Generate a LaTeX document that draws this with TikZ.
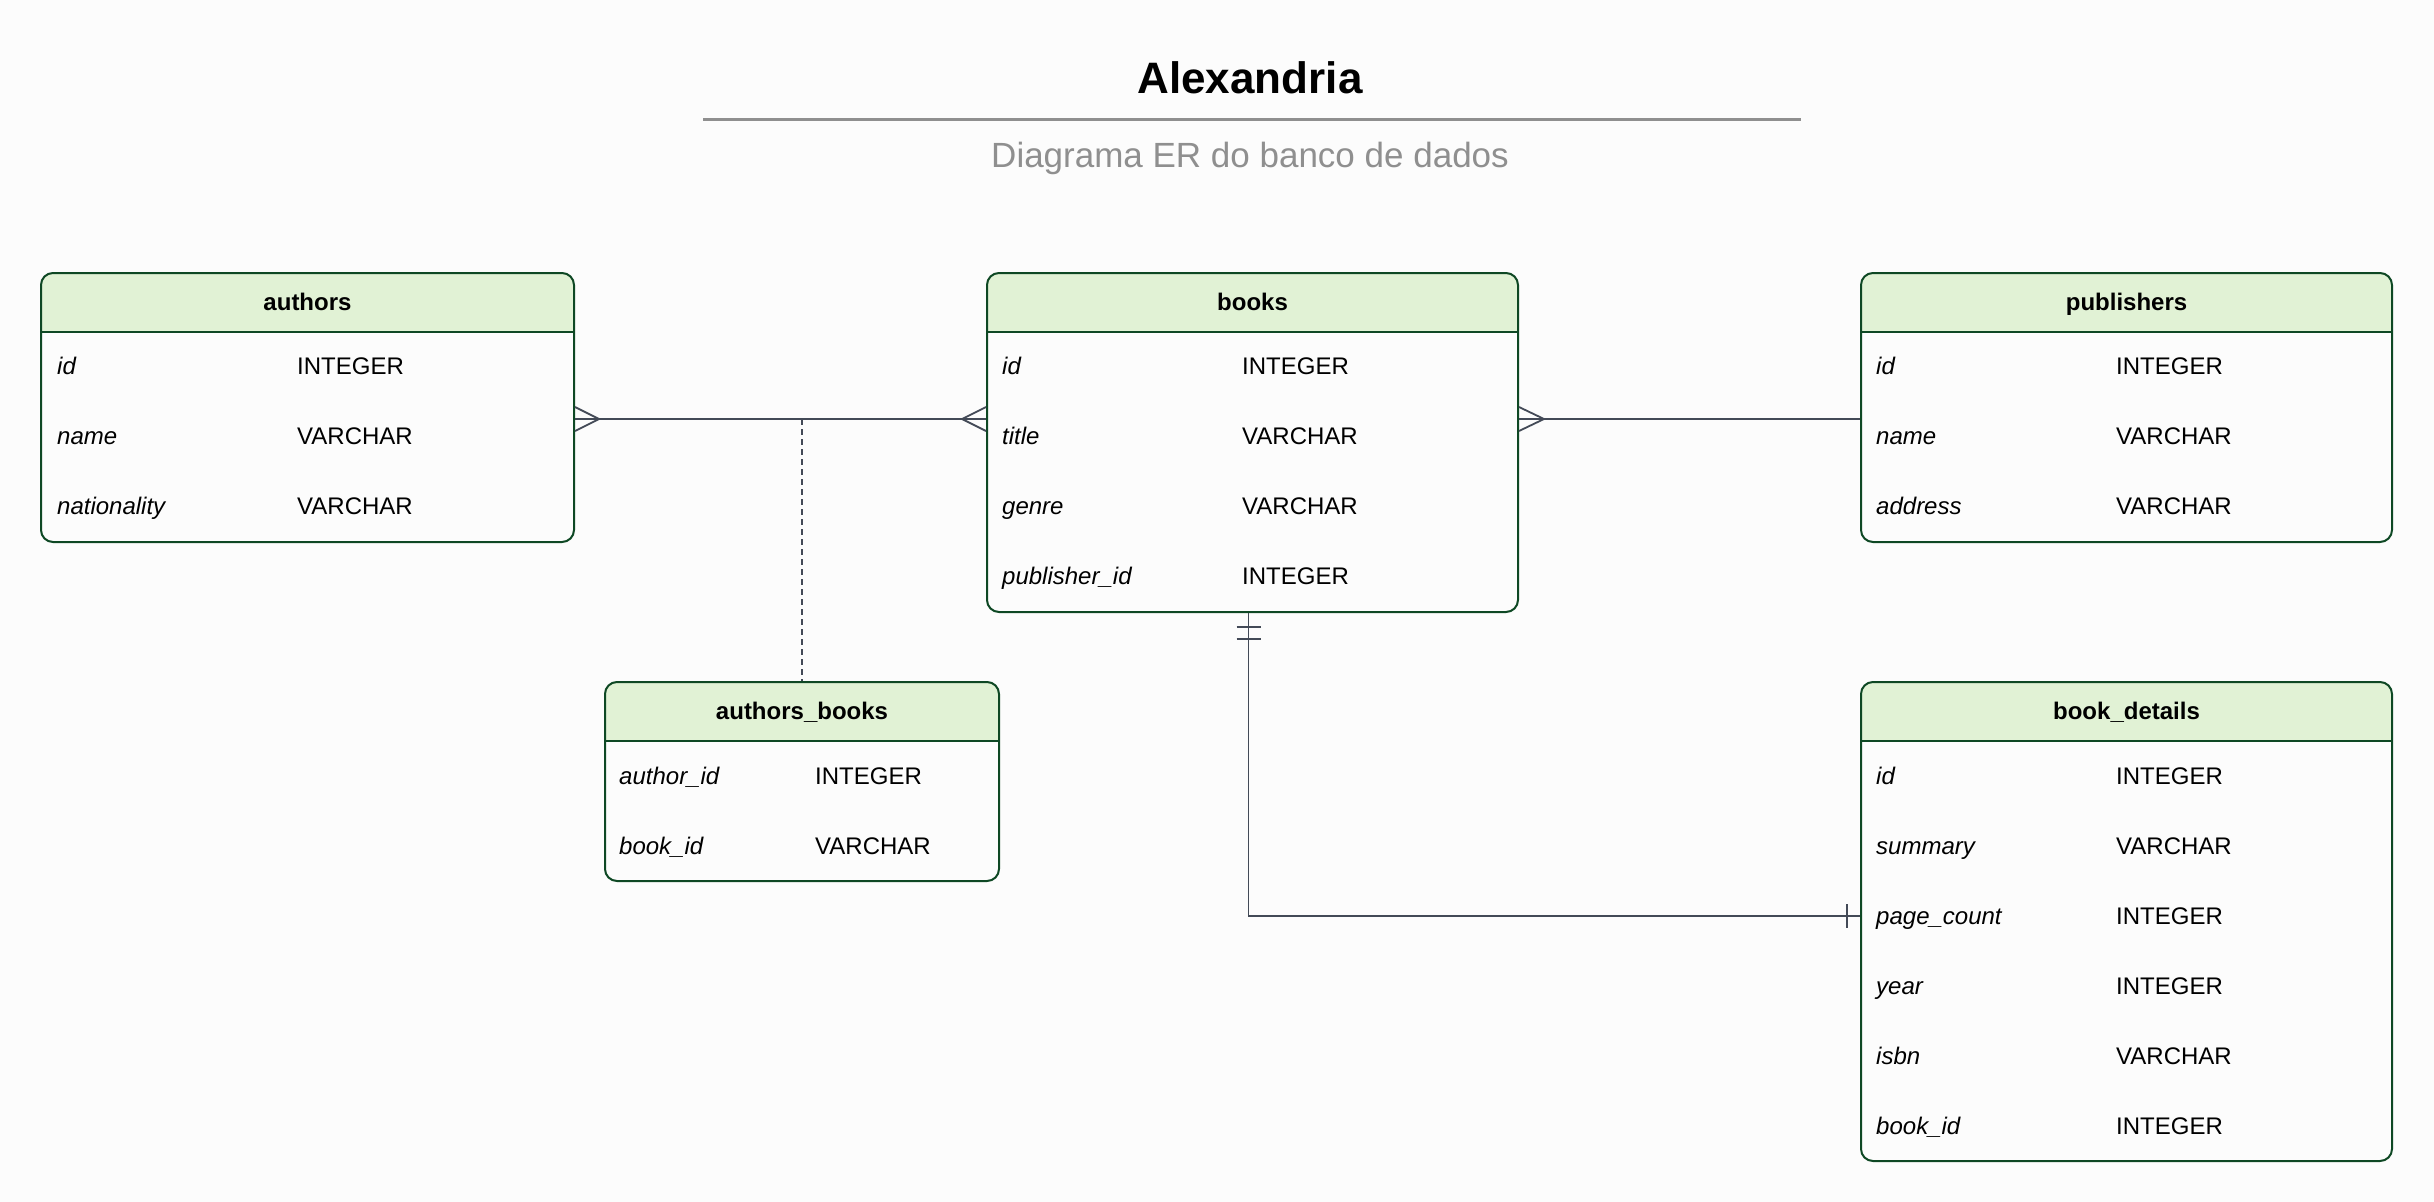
\documentclass[tikz,border=0pt]{standalone}
\usepackage{fontspec}
\setmainfont{Liberation Sans}
\definecolor{bg}{RGB}{252,252,252}
\definecolor{tblline}{RGB}{14,72,36}
\definecolor{tblhead}{RGB}{225,242,213}
\definecolor{relline}{RGB}{67,74,87}
\definecolor{subgray}{RGB}{143,143,143}
\tikzset{
  tbl/.style={draw=tblline, line width=2pt, rounded corners=12pt, fill=bg,
    anchor=north west, inner sep=0pt,
    path picture={
      \fill[tblhead, sharp corners] (path picture bounding box.north west)
        rectangle ([yshift=-59pt]path picture bounding box.north east);
      \draw[tblline, line width=2pt, sharp corners]
        ([yshift=-59pt]path picture bounding box.north west)
        -- ([yshift=-59pt]path picture bounding box.north east);}},
  hd/.style={inner sep=0pt, text height=17pt, text depth=0pt,
    font=\fontsize{24}{28}\selectfont\bfseries},
  fld/.style={anchor=west, inner sep=0pt, text height=17pt, text depth=0pt,
    font=\fontsize{24}{28}\selectfont\itshape},
  typ/.style={anchor=west, inner sep=0pt, text height=17pt, text depth=0pt,
    font=\fontsize{24}{28}\selectfont},
  rel/.style={draw=relline, line width=1.8pt}
}
\begin{document}
\begin{tikzpicture}
	\fill[bg] (0pt,0pt) rectangle (2434pt,-1202pt);
	\useasboundingbox (0pt,0pt) rectangle (2434pt,-1202pt);
	%title
	\node[anchor=base, font=\fontsize{44}{52}\selectfont\bfseries] (title) at (1250pt,-93pt) {Alexandria};
	\draw[subgray, line width=3pt] (703pt,-119pt) -- (1801pt,-119pt);
	\node[anchor=base, text=subgray, font=\fontsize{35}{42}\selectfont] (subtitle) at (1250pt,-167pt) {Diagrama ER do banco de dados};
	%authors
	\node[tbl, minimum width=533pt, minimum height=269pt] (authors) at (40pt,-272pt) {};
	\node[hd] (authors-h) at ([yshift=-29.5pt]authors.north) {authors};
	\node[fld] (au-id) at (57pt,-366pt) {id};
	\node[typ] (au-id-t) at (297pt,-366pt) {INTEGER};
	\node[fld] (au-name) at (57pt,-436pt) {name};
	\node[typ] (au-name-t) at (297pt,-436pt) {VARCHAR};
	\node[fld] (au-nat) at (57pt,-506pt) {nationality};
	\node[typ] (au-nat-t) at (297pt,-506pt) {VARCHAR};
	%books
	\node[tbl, minimum width=531pt, minimum height=339pt] (books) at (986pt,-272pt) {};
	\node[hd] (books-h) at ([yshift=-29.5pt]books.north) {books};
	\node[fld] (bk-id) at (1002pt,-366pt) {id};
	\node[typ] (bk-id-t) at (1242pt,-366pt) {INTEGER};
	\node[fld] (bk-title) at (1002pt,-436pt) {title};
	\node[typ] (bk-title-t) at (1242pt,-436pt) {VARCHAR};
	\node[fld] (bk-genre) at (1002pt,-506pt) {genre};
	\node[typ] (bk-genre-t) at (1242pt,-506pt) {VARCHAR};
	\node[fld] (bk-pub) at (1002pt,-576pt) {publisher\_id};
	\node[typ] (bk-pub-t) at (1242pt,-576pt) {INTEGER};
	%publishers
	\node[tbl, minimum width=531pt, minimum height=269pt] (publishers) at (1860pt,-272pt) {};
	\node[hd] (publishers-h) at ([yshift=-29.5pt]publishers.north) {publishers};
	\node[fld] (pb-id) at (1876pt,-366pt) {id};
	\node[typ] (pb-id-t) at (2116pt,-366pt) {INTEGER};
	\node[fld] (pb-name) at (1876pt,-436pt) {name};
	\node[typ] (pb-name-t) at (2116pt,-436pt) {VARCHAR};
	\node[fld] (pb-addr) at (1876pt,-506pt) {address};
	\node[typ] (pb-addr-t) at (2116pt,-506pt) {VARCHAR};
	%authors_books
	\node[tbl, minimum width=394pt, minimum height=199pt] (authors-books) at (604pt,-681pt) {};
	\node[hd] (authors-books-h) at ([yshift=-29.5pt]authors-books.north) {authors\_books};
	\node[fld] (ab-author) at (619pt,-776pt) {author\_id};
	\node[typ] (ab-author-t) at (815pt,-776pt) {INTEGER};
	\node[fld] (ab-book) at (619pt,-846pt) {book\_id};
	\node[typ] (ab-book-t) at (815pt,-846pt) {VARCHAR};
	%book_details
	\node[tbl, minimum width=531pt, minimum height=479pt] (book-details) at (1860pt,-681pt) {};
	\node[hd] (book-details-h) at ([yshift=-29.5pt]book-details.north) {book\_details};
	\node[fld] (bd-id) at (1876pt,-776pt) {id};
	\node[typ] (bd-id-t) at (2116pt,-776pt) {INTEGER};
	\node[fld] (bd-sum) at (1876pt,-846pt) {summary};
	\node[typ] (bd-sum-t) at (2116pt,-846pt) {VARCHAR};
	\node[fld] (bd-pages) at (1876pt,-916pt) {page\_count};
	\node[typ] (bd-pages-t) at (2116pt,-916pt) {INTEGER};
	\node[fld] (bd-year) at (1876pt,-986pt) {year};
	\node[typ] (bd-year-t) at (2116pt,-986pt) {INTEGER};
	\node[fld] (bd-isbn) at (1876pt,-1056pt) {isbn};
	\node[typ] (bd-isbn-t) at (2116pt,-1056pt) {VARCHAR};
	\node[fld] (bd-book) at (1876pt,-1126pt) {book\_id};
	\node[typ] (bd-book-t) at (2116pt,-1126pt) {INTEGER};
	%authors - books (many to many)
	\coordinate (ab-l) at (authors.east |- 0,-419pt);
	\coordinate (ab-r) at (books.west |- 0,-419pt);
	\draw[rel] (ab-l) -- (ab-r);
	\draw[rel] ([yshift=12pt]ab-l) -- ([xshift=24pt]ab-l) -- ([yshift=-12pt]ab-l);
	\draw[rel] ([yshift=12pt]ab-r) -- ([xshift=-24pt]ab-r) -- ([yshift=-12pt]ab-r);
	\draw[rel, dash pattern=on 6pt off 4pt] (authors-books.north |- ab-l) -- (authors-books.north);
	%books - publishers
	\coordinate (bp-l) at (books.east |- 0,-419pt);
	\coordinate (bp-r) at (publishers.west |- 0,-419pt);
	\draw[rel] (bp-l) -- (bp-r);
	\draw[rel] ([yshift=12pt]bp-l) -- ([xshift=25pt]bp-l) -- ([yshift=-12pt]bp-l);
	%books - book_details (one to one)
	\coordinate (bd-t) at ([xshift=-4pt]books.south);
	\coordinate (bd-r) at (book-details.west |- 0,-916pt);
	\draw[rel] (bd-t) |- (bd-r);
	\draw[rel] ([shift={(-12pt,-14pt)}]bd-t) -- ++(24pt,0);
	\draw[rel] ([shift={(-12pt,-26pt)}]bd-t) -- ++(24pt,0);
	\draw[rel] ([shift={(-13pt,12pt)}]bd-r) -- ++(0,-24pt);
\end{tikzpicture}
\end{document}
